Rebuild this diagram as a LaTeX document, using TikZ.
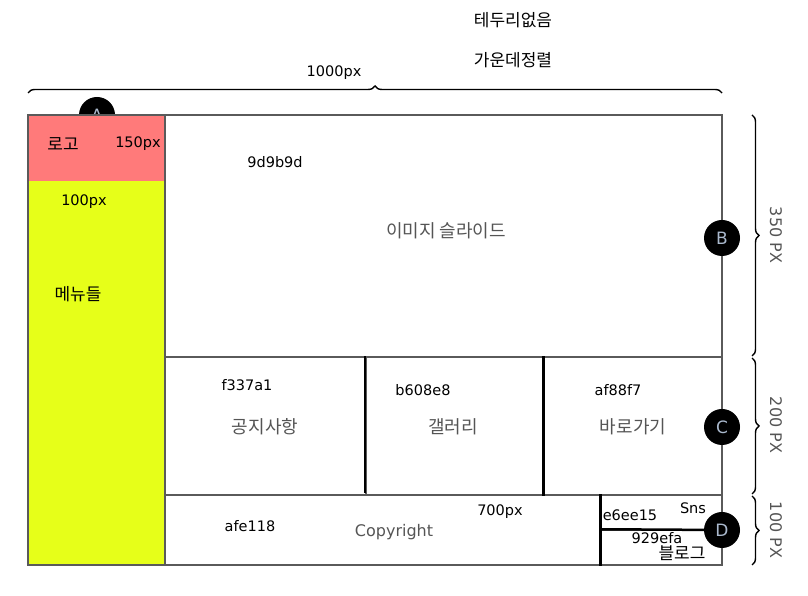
\documentclass[tikz,border=0pt]{standalone}
\usepackage{fontspec}
\setmainfont{DejaVu Sans}
\newfontfamily\kr{Noto Sans CJK KR}
\usetikzlibrary{decorations.pathreplacing}
\definecolor{logored}{RGB}{255,122,122}
\definecolor{menuyellow}{RGB}{230,255,25}
\definecolor{frame}{RGB}{90,90,90}
\definecolor{caption}{RGB}{85,85,85}
\definecolor{markertext}{RGB}{170,185,205}

\begin{document}
\begin{tikzpicture}[x=1pt, y=1pt,
    area/.style={draw=frame, line width=1.5pt, fill=white, minimum width=#1, inner sep=0pt},
    marker/.style={circle, fill=black, minimum size=36pt, inner sep=0pt, text=markertext, font=\fontsize{17}{20}\selectfont},
    lbl/.style={font=\fontsize{14.5}{17}\selectfont, inner sep=1pt},
    krlbl/.style={font=\kr\fontsize{17}{19}\selectfont, inner sep=1pt},
    title/.style={font=\kr\fontsize{18}{21}\selectfont, text=caption},
    brace/.style={decorate, decoration={brace, amplitude=7pt}, line width=1.4pt},
    size/.style={font=\fontsize{16}{19}\selectfont, text=caption, rotate=-90}]
        \useasboundingbox (0,0) rectangle (808,596);

        % Marker A sits behind the logo
        \node[marker] (A) at (97, 481) {A};

        % Areas
        \node[fill=logored, minimum width=137pt, minimum height=66pt, inner sep=0pt] (logo) at (96.5, 448) {};
        \node[fill=menuyellow, minimum width=137pt, minimum height=384pt, inner sep=0pt] (menu) at (96.5, 223) {};
        \draw[frame, line width=1.5pt] (logo.north west) rectangle (menu.south east);
        \node[area=557pt, minimum height=242pt] (slide) at (443.5, 360) {};
        \node[area=201pt, minimum height=138pt] (notice) at (265.5, 170) {};
        \node[area=178pt, minimum height=138pt] (gallery) at (455, 170) {};
        \node[area=178pt, minimum height=138pt] (shortcut) at (633, 170) {};
        \node[area=436pt, minimum height=70pt] (footer) at (383, 66) {};
        \node[area=121pt, minimum height=35pt] (sns) at (661.5, 83.5) {};
        \node[area=121pt, minimum height=35pt] (blog) at (661.5, 48.5) {};

        % Markers
        \node[marker] (B) at (722, 358) {B};
        \node[marker] (C) at (722, 169) {C};

        % Dividers
        \draw[line width=2pt] (gallery.north west) -- ([yshift=3pt]gallery.south west);
        \draw[line width=3pt] (shortcut.north west) -- (shortcut.south west);
        \draw[line width=3pt] (sns.north west) -- (blog.south west);
        \node[marker] (D) at (722, 66) {D};
        \draw[line width=2.5pt] (blog.north west) -- (D);

        % Braces
        \coordinate (wL) at (28, 503);
        \coordinate (wR) at (722, 503);
        \coordinate (h0) at (752, 481);
        \coordinate (h1) at (752, 240);
        \coordinate (h2) at (752, 238);
        \coordinate (h3) at (752, 102);
        \coordinate (h4) at (752, 100);
        \coordinate (h5) at (752, 31);
        \draw[brace] (wL) -- (wR);
        \draw[brace] (h0) -- (h1);
        \draw[brace] (h2) -- (h3);
        \draw[brace] (h4) -- (h5);

        % Labels
        \node[krlbl] (note1) at (513, 576) {테두리없음};
        \node[krlbl] (note2) at (513, 536) {가운데정렬};
        \node[lbl] (width) at (334, 523) {1000px};
        \node[size] (h350) at (776, 361) {350 PX};
        \node[size] (h200) at (776, 171) {200 PX};
        \node[size] (h100) at (776, 66) {100 PX};
        \node[krlbl] (logotext) at (63, 452) {로고};
        \node[lbl] (logow) at (138, 452) {150px};
        \node[lbl] (menuw) at (84, 394) {100px};
        \node[krlbl] (menutext) at (78, 302) {메뉴들};
        \node[lbl] (c1) at (275, 434) {9d9b9d};
        \node[title] (slidetext) at (446, 365) {이미지 슬라이드};
        \node[lbl] (c2) at (247, 211) {f337a1};
        \node[title] (noticetext) at (265, 169) {공지사항};
        \node[lbl] (c3) at (423, 206) {b608e8};
        \node[title] (gallerytext) at (453, 169) {갤러리};
        \node[lbl] (c4) at (618, 206) {af88f7};
        \node[title] (shortcuttext) at (633, 169) {바로가기};
        \node[lbl] (c5) at (250, 70) {afe118};
        \node[font=\fontsize{16}{19}\selectfont, text=caption] (copy) at (394, 64) {Copyright};
        \node[lbl] (footw) at (500, 84) {700px};
        \node[lbl] (c6) at (630, 81) {e6ee15};
        \node[lbl] (snstext) at (693, 88) {Sns};
        \node[lbl] (c7) at (657, 58) {929efa};
        \node[krlbl] (blogtext) at (682, 43) {블로그};
    \end{tikzpicture}
\end{document}
